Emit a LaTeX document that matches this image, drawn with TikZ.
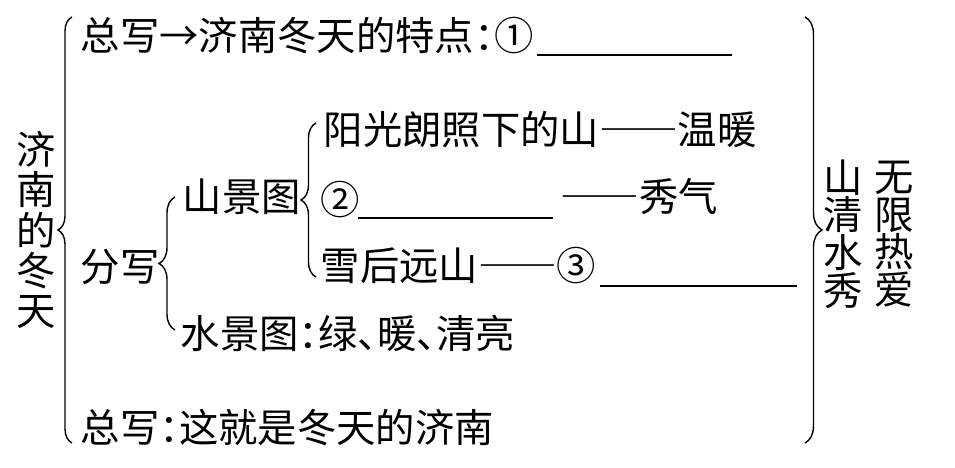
\documentclass[tikz,border=0pt]{standalone}
\usepackage{fontspec}
\setmainfont{Noto Sans CJK SC}[RawFeature=+halt]
\newfontfamily\fullw{Noto Sans CJK SC}[RawFeature=+fwid]
\usetikzlibrary{decorations.pathreplacing}

\begin{document}
\begin{tikzpicture}[x=1mm,y=1mm,
  entry/.style={anchor=west,inner sep=0pt,font=\fontsize{11.2}{13}\selectfont},
  vtext/.style={align=center,inner sep=0pt,font=\fontsize{11.2}{#1}\selectfont},
  curly/.style={decorate,decoration={brace,amplitude=#1},thin},
  blank/.style={thin},
]
  \useasboundingbox (0,0) rectangle (95.5,46.8);

  % left column
  \node[vtext=11.4pt] (title) at (3.6,23.8) {济\\南\\的\\冬\\天};
  \draw[curly=1.4mm] (7.2,2.5) -- (7.2,45.1);

  % general parts
  \node[entry] (zongA) at (8.0,43.2) {总写→济南冬天的特点：{\fullw ①}};
  \draw[blank] ([xshift=0.3mm,yshift=-1.9mm]zongA.east) -- ++(19.5,0);
  \node[entry] (fenxie) at (8.0,20.1) {分写};
  \node[entry] (zongB) at (8.0,4.0) {总写：这就是冬天的济南};

  % detail parts
  \draw[curly=1.6mm] (17.5,13.8) -- (17.5,27.1);
  \node[entry] (shanjing) at (18.2,27.1) {山景图};
  \node[entry] (shuijing) at (18.0,13.5) {水景图：绿、暖、清亮};

  \draw[curly=1.5mm] (31.6,19.1) -- (31.6,34.5);
  \node[entry] (sun) at (32.3,33.8) {阳光朗照下的山{\fullw ——}温暖};
  \node[entry] (n2) at (32.0,26.8) {{\fullw ②}};
  \draw[blank] ([xshift=-0.3mm,yshift=-1.8mm]n2.east) -- ++(19.5,0);
  \node[entry] (xiuqi) at (56.0,27.1) {{\fullw ——}秀气};
  \node[entry] (snow) at (32.0,20.2) {雪后远山{\fullw ——③}};
  \draw[blank] ([xshift=0.3mm,yshift=-2.0mm]snow.east) -- ++(19.7,0);

  % right column
  \draw[curly=1.7mm] (80.5,45.1) -- (80.5,2.5);
  \node[vtext=10.7pt] (theme) at (84.3,23.4) {山\\清\\水\\秀};
  \node[vtext=10.7pt] (love) at (89.4,23.4) {无\\限\\热\\爱};
\end{tikzpicture}
\end{document}
